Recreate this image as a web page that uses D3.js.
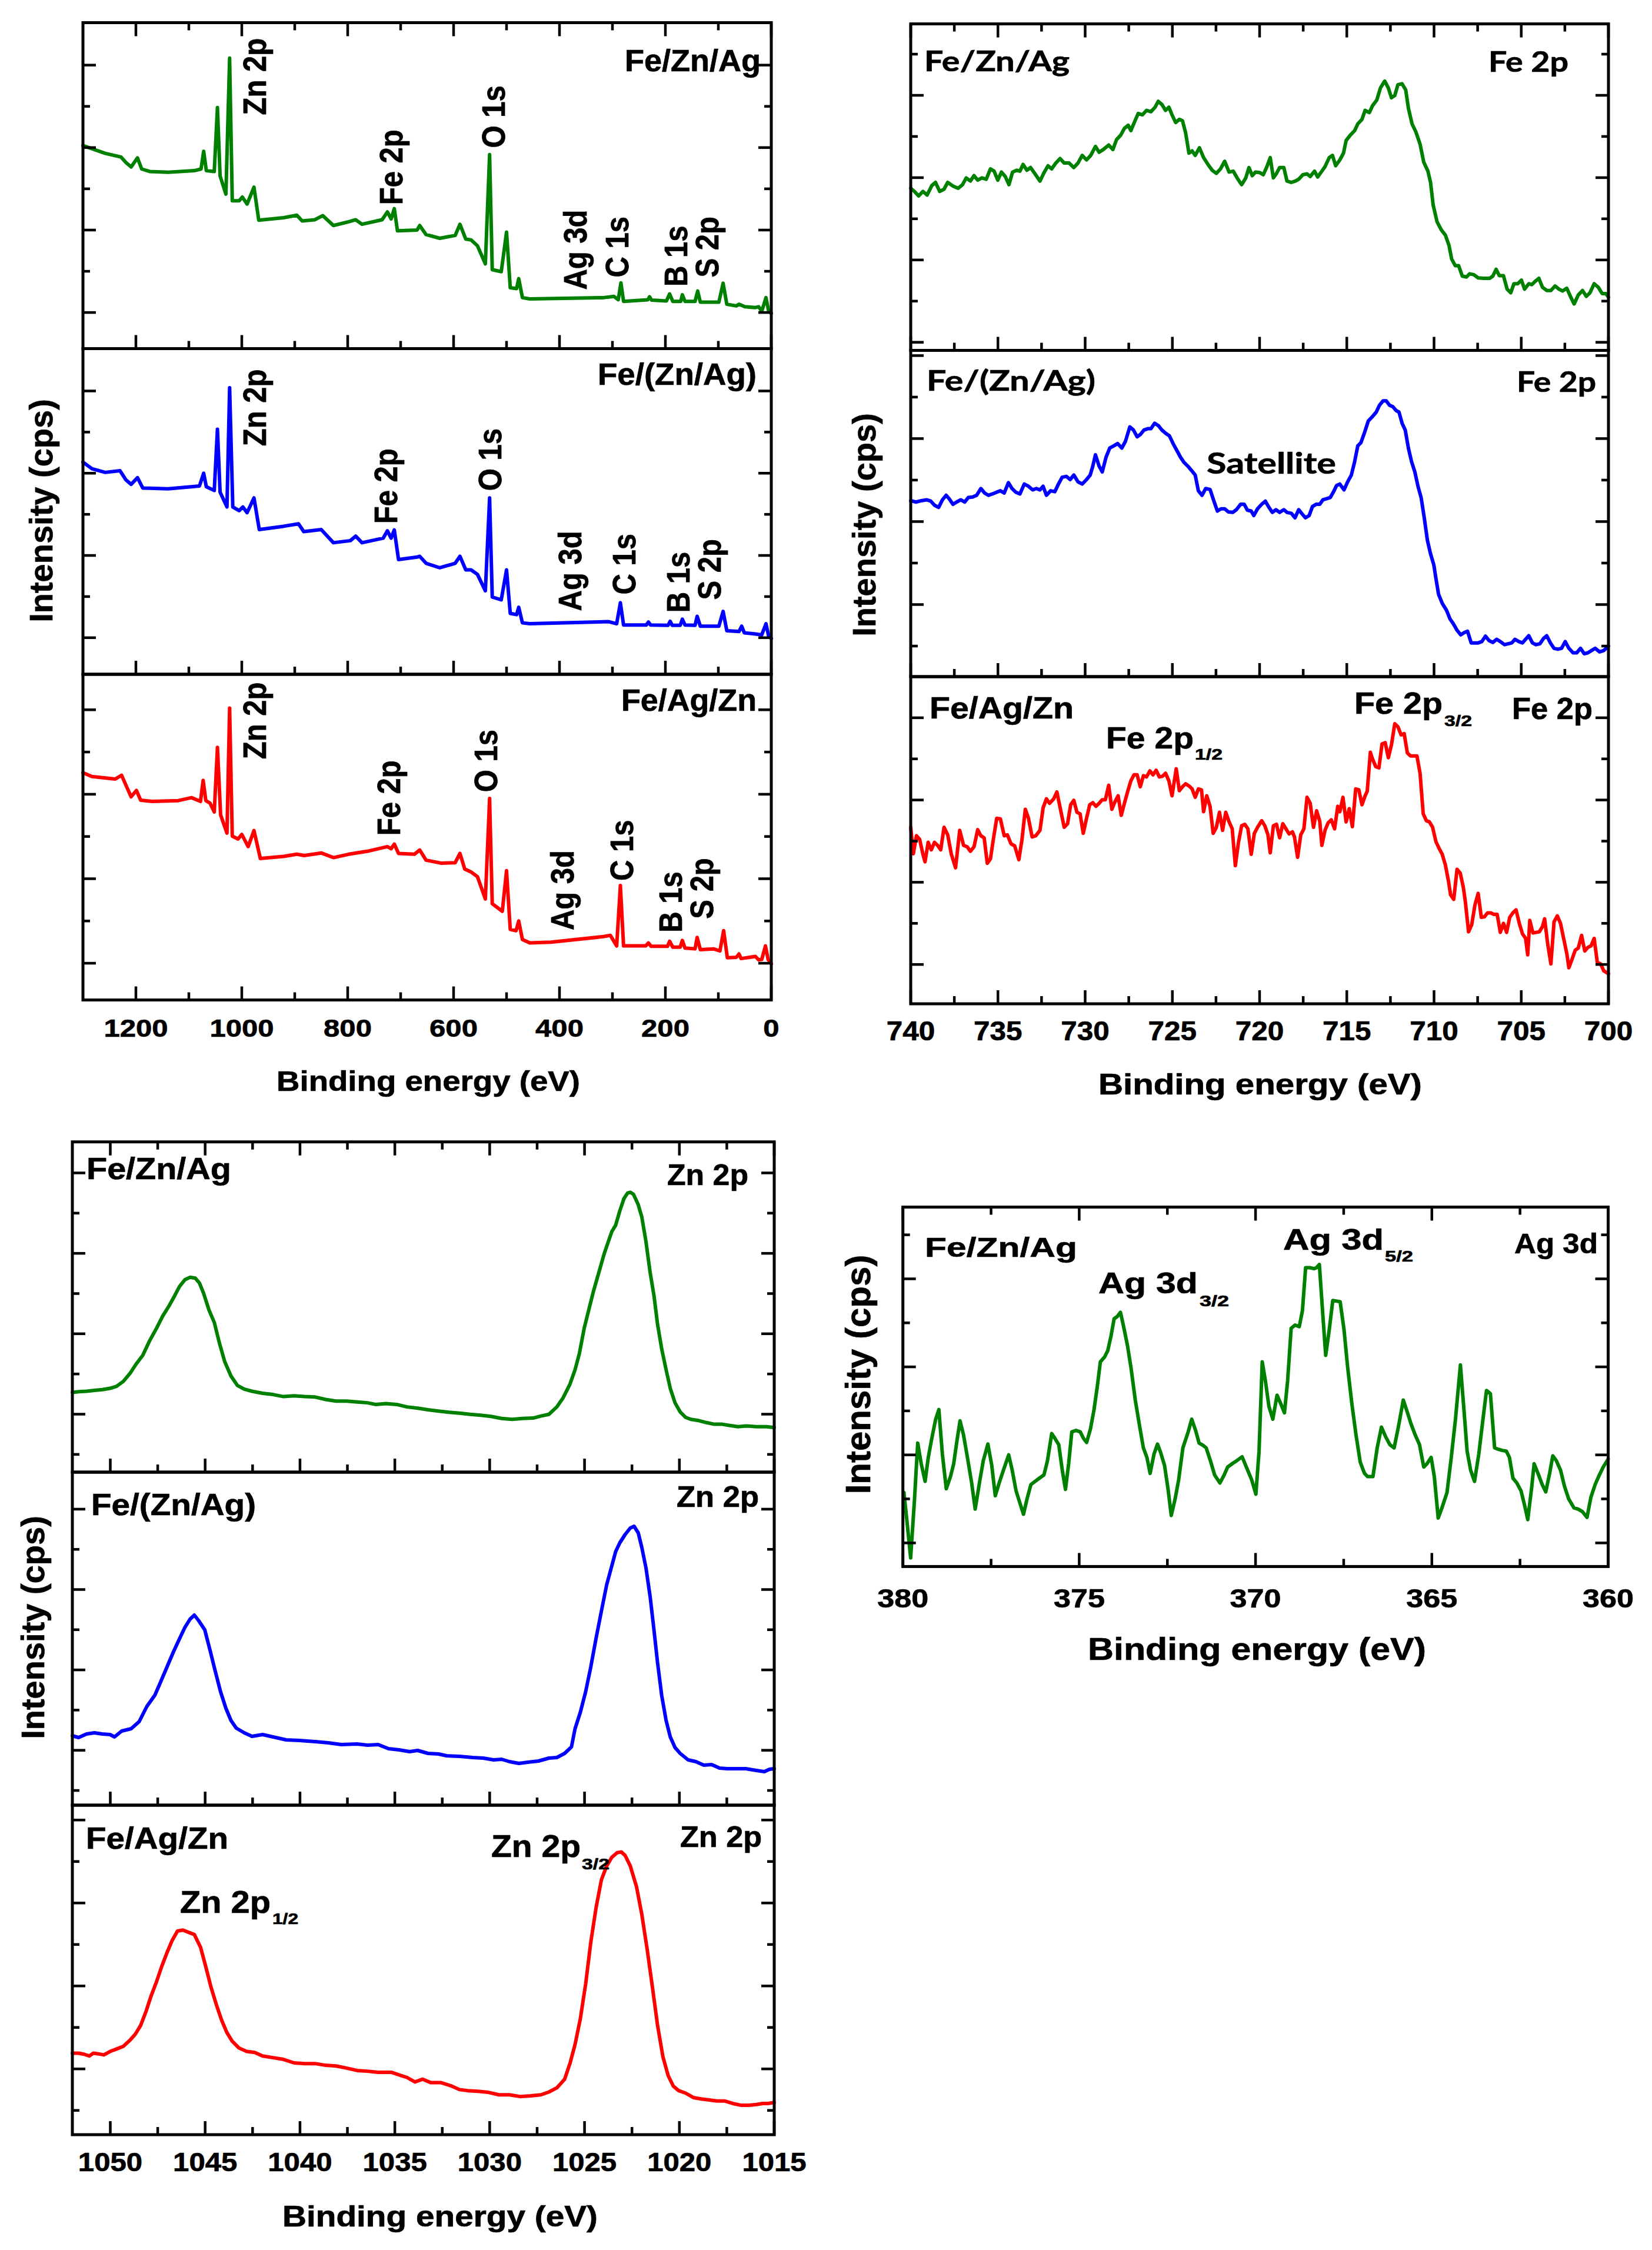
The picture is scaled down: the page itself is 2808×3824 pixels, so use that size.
<!DOCTYPE html>
<html><head><meta charset="utf-8">
<script src="https://cdn.jsdelivr.net/npm/d3@7/dist/d3.min.js"></script>
<style>body{margin:0;background:#fff} text{stroke:#000;stroke-width:0.7px}</style>
</head><body>
<script>
// ---------------- DATA ----------------
// Survey spectra: [binding energy eV, intensity (a.u.)]
const surveyFeZnAg = [[1300,4.05],[1258,3.86],[1228,3.77],[1219,3.64],[1209,3.53],[1197,3.75],[1189,3.48],[1174,3.42],[1139,3.40],[1090,3.44],[1077,3.48],[1072,3.91],[1067,3.44],[1052,3.42],[1046,4.97],[1041,3.31],[1030,2.87],[1023,6.17],[1018,2.71],[1005,2.71],[999,2.80],[990,2.63],[977,3.04],[968,2.24],[921,2.30],[896,2.36],[886,2.22],[862,2.25],[847,2.35],[827,2.11],[798,2.20],[785,2.25],[773,2.14],[735,2.25],[725,2.44],[718,2.27],[712,2.52],[706,1.98],[669,2.0],[664,2.11],[652,1.89],[626,1.80],[597,1.87],[588,2.14],[577,1.78],[567,1.76],[555,1.62],[540,1.18],[532,3.83],[527,1.04],[510,0.99],[500,1.95],[493,0.60],[481,0.58],[477,0.82],[470,0.36],[456,0.33],[317,0.36],[297,0.39],[289,0.31],[284,0.72],[279,0.27],[233,0.31],[230,0.38],[226,0.30],[198,0.28],[192,0.45],[186,0.27],[171,0.27],[168,0.43],[163,0.27],[144,0.27],[139,0.52],[134,0.25],[99,0.25],[91,0.71],[84,0.20],[66,0.16],[61,0.20],[50,0.14],[30,0.12],[24,0.14],[18,0.03],[10,0.36],[5,0.03],[0,-0.02]];
const surveyFeZnAgMix = [[1300,4.27],[1283,4.11],[1258,4.02],[1230,4.06],[1219,3.84],[1209,3.73],[1197,3.89],[1187,3.64],[1139,3.62],[1080,3.69],[1072,4.0],[1067,3.67],[1052,3.58],[1046,5.07],[1041,3.54],[1028,3.18],[1023,6.08],[1017,3.18],[1005,3.09],[998,3.18],[990,3.04],[977,3.40],[967,2.63],[921,2.71],[893,2.77],[883,2.58],[850,2.63],[827,2.31],[795,2.36],[785,2.47],[773,2.31],[733,2.42],[725,2.60],[718,2.42],[712,2.62],[704,1.90],[669,1.96],[664,1.98],[652,1.81],[626,1.70],[597,1.81],[588,1.98],[577,1.65],[567,1.65],[555,1.54],[540,1.14],[532,3.40],[527,0.99],[510,0.92],[500,1.65],[493,0.59],[481,0.56],[477,0.74],[470,0.36],[456,0.34],[307,0.39],[292,0.34],[285,0.85],[279,0.31],[236,0.31],[232,0.38],[228,0.31],[195,0.30],[191,0.40],[187,0.30],[172,0.30],[168,0.45],[163,0.31],[144,0.30],[140,0.52],[134,0.28],[99,0.28],[91,0.64],[84,0.17],[61,0.15],[56,0.28],[51,0.12],[30,0.09],[18,0.07],[10,0.34],[5,0.04],[0,-0.02]];
const surveyFeAgZn = [[1300,4.51],[1283,4.42],[1239,4.36],[1227,4.45],[1219,4.22],[1209,3.94],[1199,4.09],[1191,3.86],[1169,3.83],[1120,3.85],[1095,3.92],[1078,3.83],[1073,4.33],[1068,3.85],[1060,3.79],[1052,3.58],[1046,5.11],[1040,3.51],[1028,3.08],[1023,6.04],[1018,3.01],[1007,2.94],[1000,3.05],[988,2.76],[977,3.14],[965,2.48],[921,2.53],[896,2.58],[882,2.55],[850,2.61],[827,2.50],[798,2.58],[763,2.65],[725,2.76],[718,2.71],[712,2.82],[704,2.60],[674,2.58],[664,2.68],[652,2.44],[624,2.37],[597,2.38],[588,2.60],[579,2.23],[567,2.16],[555,2.05],[540,1.52],[532,3.90],[527,1.41],[508,1.23],[500,2.19],[493,0.80],[482,0.77],[477,1.0],[470,0.56],[456,0.48],[416,0.50],[317,0.63],[304,0.66],[292,0.41],[285,1.84],[279,0.41],[237,0.41],[232,0.48],[227,0.40],[196,0.40],[192,0.52],[186,0.38],[172,0.38],[168,0.54],[163,0.36],[144,0.34],[140,0.61],[134,0.32],[109,0.34],[97,0.29],[90,0.77],[83,0.13],[66,0.14],[61,0.22],[57,0.11],[30,0.16],[24,0.08],[18,0.09],[11,0.41],[6,0.09],[0,-0.01]];

// Fe 2p spectra: [binding energy eV, intensity (a.u.)]
const feFeZnAg = [[740.00,342],[739.79,335],[739.55,325],[739.30,335],[739.06,327],[738.79,348],[738.58,355],[738.34,335],[738.09,340],[737.88,355],[737.58,347],[737.28,342],[737.03,350],[736.82,365],[736.58,358],[736.37,370],[736.16,360],[735.92,365],[735.67,362],[735.43,385],[735.22,380],[735.01,360],[734.80,378],[734.58,368],[734.37,350],[734.16,378],[733.92,382],[733.74,380],[733.56,395],[733.34,382],[733.13,388],[732.89,375],[732.59,358],[732.34,378],[732.13,392],[731.92,385],[731.68,398],[731.44,408],[731.20,398],[730.92,398],[730.65,388],[730.41,398],[730.17,415],[729.92,405],[729.68,415],[729.41,435],[729.20,422],[728.96,428],[728.65,438],[728.41,428],[728.20,450],[727.96,460],[727.75,475],[727.53,482],[727.38,470],[727.14,492],[726.96,508],[726.72,505],[726.48,515],[726.23,512],[725.99,522],[725.81,535],[725.60,528],[725.39,515],[725.20,522],[725.02,505],[724.81,488],[724.60,495],[724.42,492],[724.24,465],[724.05,420],[723.87,425],[723.69,415],[723.45,432],[723.21,410],[722.96,395],[722.72,382],[722.48,375],[722.24,385],[722.00,402],[721.75,378],[721.51,380],[721.24,362],[721.03,350],[720.79,365],[720.61,388],[720.42,370],[720.24,378],[720.00,377],[719.79,372],[719.58,390],[719.39,410],[719.21,365],[719.03,375],[718.85,388],[718.61,388],[718.43,358],[718.18,355],[717.94,358],[717.76,362],[717.52,372],[717.28,374],[717.10,368],[716.85,380],[716.67,367],[716.43,380],[716.25,390],[716.01,410],[715.82,415],[715.64,392],[715.40,405],[715.19,420],[715.04,448],[714.80,460],[714.55,470],[714.37,485],[714.13,495],[713.95,515],[713.71,510],[713.53,525],[713.28,538],[713.07,565],[712.83,580],[712.62,565],[712.44,543],[712.25,548],[712.07,572],[711.83,574],[711.62,560],[711.47,520],[711.26,485],[711.04,467],[710.80,440],[710.59,400],[710.35,380],[710.20,355],[710.05,305],[709.83,268],[709.59,250],[709.35,238],[709.14,215],[708.99,185],[708.78,170],[708.59,170],[708.38,147],[708.14,145],[707.96,152],[707.72,150],[707.47,143],[707.17,142],[706.81,142],[706.63,147],[706.44,162],[706.26,148],[706.02,148],[705.81,118],[705.60,110],[705.42,130],[705.20,130],[704.99,138],[704.81,118],[704.57,130],[704.39,128],[704.21,135],[703.99,142],[703.78,122],[703.54,115],[703.30,115],[703.06,125],[702.84,118],[702.63,114],[702.39,120],[702.18,102],[701.97,85],[701.73,105],[701.49,115],[701.27,102],[701.06,110],[700.82,130],[700.58,122],[700.36,108],[700.15,108],[700.00,100]];
const feFeZnAgMix = [[740.00,323],[739.70,320],[739.39,323],[739.09,325],[738.85,322],[738.64,313],[738.40,308],[738.18,325],[737.97,335],[737.79,327],[737.58,315],[737.37,320],[737.13,325],[736.91,320],[736.70,330],[736.46,331],[736.22,335],[735.98,350],[735.76,340],[735.55,335],[735.31,338],[735.07,342],[734.86,345],[734.64,340],[734.40,363],[734.19,350],[733.98,342],[733.74,338],[733.49,360],[733.25,355],[733.01,347],[732.80,350],[732.59,347],[732.41,355],[732.22,335],[731.98,345],[731.74,343],[731.53,360],[731.32,375],[731.07,377],[730.86,370],[730.65,380],[730.41,365],[730.17,360],[729.92,370],[729.71,380],[729.56,400],[729.41,425],[729.20,400],[729.02,387],[728.80,420],[728.59,440],[728.35,445],[728.14,450],[727.90,440],[727.69,455],[727.44,487],[727.23,480],[727.02,465],[726.84,470],[726.63,480],[726.41,483],[726.23,483],[726.02,495],[725.81,490],[725.60,480],[725.39,473],[725.17,467],[724.96,450],[724.75,435],[724.54,420],[724.33,408],[724.12,400],[723.90,390],[723.69,380],[723.51,345],[723.30,335],[723.09,350],[722.84,348],[722.60,320],[722.42,300],[722.21,305],[722.00,305],[721.79,298],[721.54,297],[721.33,303],[721.09,315],[720.88,315],[720.70,302],[720.48,300],[720.33,290],[720.12,305],[719.88,315],[719.67,322],[719.46,308],[719.27,297],[719.06,303],[718.85,297],[718.61,303],[718.43,297],[718.18,295],[717.97,285],[717.76,303],[717.55,293],[717.37,285],[717.16,290],[716.97,310],[716.76,315],[716.55,315],[716.37,325],[716.19,327],[715.95,330],[715.76,343],[715.58,357],[715.40,360],[715.16,347],[714.95,365],[714.74,380],[714.55,410],[714.37,445],[714.19,452],[713.98,475],[713.77,500],[713.53,510],[713.31,520],[713.13,535],[712.92,545],[712.74,545],[712.55,535],[712.37,532],[712.16,523],[712.01,520],[711.83,495],[711.65,480],[711.47,440],[711.29,410],[711.10,387],[710.92,355],[710.74,330],[710.56,285],[710.38,235],[710.20,205],[710.01,180],[709.89,150],[709.74,115],[709.53,95],[709.29,80],[709.08,60],[708.90,50],[708.68,35],[708.47,25],[708.26,30],[708.08,33],[707.87,7],[707.66,7],[707.47,7],[707.26,10],[707.05,22],[706.84,12],[706.63,8],[706.41,15],[706.20,10],[705.96,3],[705.75,5],[705.54,7],[705.36,15],[705.14,10],[704.93,7],[704.75,15],[704.57,23],[704.36,7],[704.15,3],[703.93,5],[703.72,17],[703.54,23],[703.33,7],[703.12,-5],[702.90,-7],[702.69,-5],[702.48,10],[702.27,-5],[702.03,-15],[701.82,-15],[701.60,-5],[701.39,-17],[701.18,-15],[700.97,-10],[700.76,-5],[700.51,-13],[700.27,-10],[700.00,0]];
const feFeAgZn = [[740.00,457],[739.85,369],[739.67,429],[739.49,417],[739.30,367],[739.18,342],[739.00,407],[738.82,382],[738.64,407],[738.46,397],[738.28,382],[738.09,457],[737.88,432],[737.67,367],[737.43,322],[737.19,447],[736.97,397],[736.76,392],[736.58,377],[736.37,392],[736.16,449],[735.98,429],[735.79,422],[735.61,337],[735.43,352],[735.25,422],[735.07,487],[734.86,485],[734.64,429],[734.46,432],[734.25,402],[734.04,395],[733.80,349],[733.62,417],[733.43,517],[733.25,487],[733.04,425],[732.83,429],[732.59,447],[732.41,522],[732.22,552],[732.04,537],[731.80,552],[731.62,575],[731.38,507],[731.20,457],[731.01,469],[730.83,532],[730.65,547],[730.47,507],[730.29,502],[730.11,437],[729.92,487],[729.74,532],[729.56,539],[729.38,527],[729.20,537],[729.02,549],[728.84,549],[728.65,597],[728.47,517],[728.29,542],[728.11,562],[727.93,497],[727.75,537],[727.56,577],[727.38,612],[727.20,632],[727.02,632],[726.84,592],[726.66,629],[726.48,625],[726.29,645],[726.11,632],[725.93,647],[725.75,625],[725.57,627],[725.39,637],[725.20,612],[725.02,562],[724.78,652],[724.60,579],[724.42,592],[724.24,602],[724.05,595],[723.87,585],[723.69,557],[723.51,585],[723.33,582],[723.21,509],[723.03,562],[722.84,527],[722.66,437],[722.48,457],[722.30,507],[722.12,447],[721.94,507],[721.76,477],[721.57,452],[721.39,329],[721.21,407],[721.03,462],[720.85,467],[720.67,452],[720.48,367],[720.30,437],[720.12,457],[719.88,479],[719.70,462],[719.52,432],[719.39,372],[719.21,462],[719.03,467],[718.85,422],[718.67,469],[718.49,452],[718.31,435],[718.12,442],[718.00,425],[717.82,357],[717.64,432],[717.46,452],[717.28,557],[717.10,537],[716.91,457],[716.73,512],[716.55,477],[716.43,397],[716.25,447],[716.07,472],[715.89,482],[715.70,452],[715.52,527],[715.40,509],[715.22,557],[715.04,475],[714.86,519],[714.68,459],[714.49,585],[714.31,582],[714.13,532],[713.95,562],[713.83,577],[713.65,707],[713.53,685],[713.34,659],[713.16,655],[712.98,735],[712.80,739],[712.62,689],[712.44,732],[712.25,802],[712.07,792],[711.89,765],[711.71,769],[711.53,705],[711.35,695],[711.17,695],[710.98,695],[710.80,637],[710.62,502],[710.44,479],[710.26,475],[710.08,457],[709.89,409],[709.71,387],[709.53,367],[709.35,332],[709.17,277],[709.05,232],[708.87,217],[708.68,317],[708.50,305],[708.32,257],[708.20,207],[708.02,109],[707.84,132],[707.66,197],[707.47,237],[707.29,157],[707.11,159],[706.93,172],[706.75,172],[706.57,167],[706.38,167],[706.20,107],[706.02,137],[705.84,107],[705.66,157],[705.48,172],[705.30,182],[705.11,137],[704.93,102],[704.75,87],[704.63,32],[704.51,147],[704.33,105],[704.15,107],[703.96,109],[703.78,127],[703.66,152],[703.48,67],[703.30,2],[703.12,142],[702.93,162],[702.75,137],[702.57,87],[702.39,37],[702.27,-11],[702.09,17],[701.91,47],[701.73,55],[701.54,97],[701.36,45],[701.18,57],[701.00,62],[700.82,87],[700.64,7],[700.45,2],[700.27,-21],[700.00,-31]];

// Zn 2p spectra: [binding energy eV, intensity (a.u.)]
const znFeZnAg = [[1052.00,150],[1051.67,152],[1051.25,153],[1050.84,155],[1050.42,157],[1050.01,160],[1049.67,165],[1049.31,177],[1048.95,197],[1048.62,220],[1048.29,240],[1047.93,275],[1047.57,305],[1047.24,335],[1046.90,360],[1046.60,385],[1046.35,407],[1046.07,423],[1045.80,429],[1045.52,427],[1045.30,415],[1045.08,390],[1044.80,350],[1044.52,320],[1044.25,270],[1043.97,225],[1043.64,190],[1043.30,167],[1042.94,158],[1042.53,153],[1041.97,148],[1041.42,145],[1040.87,140],[1040.31,142],[1039.76,140],[1039.20,139],[1038.65,133],[1038.10,129],[1037.54,129],[1036.99,127],[1036.44,125],[1036.02,121],[1035.47,123],[1034.91,121],[1034.36,115],[1033.80,112],[1033.25,108],[1032.70,105],[1032.14,102],[1031.59,100],[1031.03,97],[1030.48,95],[1029.93,92],[1029.37,87],[1028.82,85],[1028.27,87],[1027.71,88],[1027.30,93],[1026.88,97],[1026.46,115],[1026.13,137],[1025.77,170],[1025.50,205],[1025.27,245],[1025.02,305],[1024.75,355],[1024.53,395],[1024.25,440],[1023.97,485],[1023.75,515],[1023.56,540],[1023.36,555],[1023.14,590],[1022.92,620],[1022.73,633],[1022.59,635],[1022.42,630],[1022.17,605],[1021.98,575],[1021.76,515],[1021.54,440],[1021.34,385],[1021.15,315],[1020.93,255],[1020.70,205],[1020.48,160],[1020.23,125],[1019.96,103],[1019.68,90],[1019.40,85],[1018.99,82],[1018.57,77],[1018.16,73],[1017.74,73],[1017.33,70],[1016.91,67],[1016.49,69],[1015.94,67],[1015.39,67],[1015.00,65]];
const znFeZnAgMix = [[1052.00,93],[1051.67,90],[1051.25,96],[1050.84,98],[1050.42,96],[1050.01,95],[1049.78,91],[1049.40,101],[1048.90,105],[1048.48,117],[1048.07,143],[1047.65,162],[1047.38,182],[1047.01,210],[1046.68,235],[1046.35,258],[1046.07,277],[1045.80,291],[1045.57,298],[1045.35,289],[1045.02,273],[1044.74,238],[1044.47,203],[1044.19,168],[1043.91,140],[1043.64,119],[1043.36,106],[1042.94,98],[1042.53,92],[1041.97,95],[1041.42,91],[1040.73,86],[1040.04,85],[1039.20,83],[1038.51,81],[1037.82,78],[1036.99,79],[1036.44,77],[1035.88,78],[1035.33,71],[1034.77,69],[1034.22,66],[1033.80,68],[1033.25,63],[1032.70,62],[1032.28,59],[1031.59,58],[1030.90,56],[1030.34,55],[1029.79,52],[1029.37,53],[1028.96,49],[1028.46,46],[1027.99,48],[1027.43,50],[1026.88,55],[1026.46,56],[1026.05,63],[1025.69,74],[1025.50,105],[1025.22,133],[1024.94,168],[1024.67,210],[1024.39,259],[1024.11,305],[1023.83,350],[1023.56,382],[1023.36,406],[1023.14,421],[1022.86,435],[1022.59,446],[1022.39,449],[1022.17,438],[1021.98,413],[1021.76,378],[1021.54,329],[1021.34,273],[1021.15,217],[1020.93,161],[1020.70,119],[1020.48,91],[1020.23,73],[1019.96,63],[1019.54,52],[1019.13,49],[1018.71,43],[1018.30,44],[1017.88,38],[1017.46,37],[1017.05,37],[1016.49,37],[1015.94,34],[1015.52,32],[1015.25,36],[1015.00,37]];
const znFeAgZn = [[1052.00,165],[1051.67,165],[1051.39,162],[1051.11,157],[1050.89,165],[1050.62,163],[1050.34,160],[1050.01,170],[1049.67,177],[1049.31,185],[1048.95,203],[1048.68,220],[1048.40,245],[1048.12,285],[1047.85,330],[1047.57,370],[1047.29,415],[1047.01,455],[1046.74,490],[1046.46,517],[1046.18,520],[1045.85,513],[1045.57,507],[1045.24,470],[1044.97,415],[1044.69,355],[1044.41,305],[1044.13,260],[1043.86,225],[1043.58,200],[1043.22,180],[1042.81,170],[1042.39,167],[1041.97,157],[1041.42,152],[1040.87,147],[1040.31,137],[1039.76,135],[1039.20,135],[1038.65,130],[1038.10,128],[1037.54,122],[1036.99,115],[1036.44,113],[1035.88,110],[1035.19,110],[1034.64,100],[1034.36,95],[1033.94,82],[1033.53,90],[1033.11,80],[1032.56,80],[1032.00,70],[1031.59,60],[1031.17,57],[1030.62,55],[1030.07,52],[1029.51,45],[1028.96,45],[1028.40,40],[1027.85,42],[1027.30,45],[1026.88,53],[1026.46,65],[1026.05,90],[1025.77,135],[1025.50,190],[1025.22,265],[1024.94,365],[1024.67,485],[1024.39,585],[1024.11,665],[1023.83,705],[1023.56,730],[1023.28,743],[1023.06,745],[1022.86,735],[1022.59,705],[1022.26,645],[1021.98,565],[1021.70,465],[1021.42,355],[1021.15,245],[1020.87,155],[1020.59,100],[1020.32,70],[1020.04,57],[1019.68,50],[1019.26,37],[1018.85,33],[1018.43,30],[1018.02,27],[1017.60,27],[1017.19,20],[1016.77,15],[1016.36,15],[1015.94,17],[1015.61,20],[1015.33,20],[1015.00,23]];

// Ag 3d spectrum: [binding energy eV, intensity (a.u.)]
const agFeZnAg = [[379.97,158],[379.88,63],[379.78,-47],[379.67,138],[379.58,313],[379.48,248],[379.37,193],[379.28,268],[379.18,328],[379.07,388],[378.98,418],[378.88,278],[378.77,170],[378.65,208],[378.56,248],[378.47,318],[378.38,383],[378.28,338],[378.17,268],[378.05,188],[377.95,106],[377.83,188],[377.72,258],[377.59,310],[377.48,243],[377.38,148],[377.27,188],[377.15,228],[377.00,276],[376.90,228],[376.79,163],[376.69,128],[376.58,90],[376.48,138],[376.37,183],[376.25,193],[376.13,203],[376.00,213],[375.90,258],[375.78,343],[375.69,328],[375.58,308],[375.48,228],[375.39,168],[375.30,248],[375.21,348],[375.09,353],[374.97,348],[374.88,328],[374.79,315],[374.68,358],[374.58,418],[374.49,488],[374.40,568],[374.28,583],[374.19,603],[374.10,648],[374.01,703],[373.92,710],[373.83,723],[373.74,678],[373.63,618],[373.53,548],[373.41,448],[373.29,368],[373.18,298],[373.08,268],[372.99,218],[372.88,278],[372.78,310],[372.69,283],[372.58,243],[372.48,168],[372.39,86],[372.28,138],[372.18,198],[372.06,298],[371.91,348],[371.81,388],[371.70,353],[371.60,313],[371.49,306],[371.40,298],[371.28,258],[371.16,213],[371.01,188],[370.89,213],[370.79,238],[370.64,250],[370.53,258],[370.38,270],[370.26,238],[370.11,198],[369.99,153],[369.90,288],[369.81,568],[369.72,508],[369.62,428],[369.51,388],[369.39,463],[369.29,438],[369.18,408],[369.09,508],[368.99,673],[368.88,683],[368.76,678],[368.67,728],[368.58,863],[368.46,863],[368.34,860],[368.27,863],[368.19,873],[368.10,728],[368.01,588],[367.91,668],[367.81,760],[367.69,758],[367.60,756],[367.49,668],[367.39,553],[367.27,438],[367.15,338],[367.03,253],[366.91,218],[366.82,208],[366.67,208],[366.55,298],[366.43,363],[366.31,333],[366.19,308],[366.07,298],[365.95,363],[365.81,448],[365.69,408],[365.59,373],[365.47,338],[365.35,308],[365.23,238],[365.14,248],[365.02,268],[364.93,208],[364.82,78],[364.72,108],[364.57,158],[364.45,268],[364.33,388],[364.19,558],[364.09,418],[364.00,288],[363.90,228],[363.79,193],[363.67,278],[363.55,388],[363.45,478],[363.34,468],[363.22,298],[363.10,293],[363.00,290],[362.89,288],[362.80,268],[362.70,203],[362.59,188],[362.47,163],[362.37,118],[362.28,73],[362.17,173],[362.10,248],[361.99,218],[361.87,183],[361.77,160],[361.66,218],[361.57,273],[361.47,258],[361.35,228],[361.24,178],[361.12,138],[360.97,110],[360.85,106],[360.73,98],[360.60,80],[360.49,143],[360.37,183],[360.25,213],[360.14,238],[360.00,263]];

// Tick labels
const surveyTicks = [1200,1000,800,600,400,200,0];
const feTicks = [740,735,730,725,720,715,710,705,700];
const znTicks = [1050,1045,1040,1035,1030,1025,1020,1015];
const agTicks = [380,375,370,365,360];

// Sample names and peak annotations
const samples = ['Fe/Zn/Ag','Fe/(Zn/Ag)','Fe/Ag/Zn'];
const surveyPeakNames = ['Zn 2p','Fe 2p','O 1s','Ag 3d','C 1s','B 1s','S 2p'];
const surveyPeakE = [[955,696.6,503.6,349.4,269.5,158.6,99.8],[955,706.6,510.2,359.4,256.2,154.2,95.4],[955,701,518,373.8,260.7,168.6,109.8]];
const surveyPeakY = [[4.79,2.61,3.99,0.55,0.85,0.63,0.85],[4.66,2.77,3.57,0.65,1.05,0.61,0.92],[4.83,3.02,4.05,0.78,1.95,0.73,1.05]];

// ---------------- DRAWING ----------------
const W = 2808, H = 3824;
const ARIAL = '"Liberation Sans", Arial, Helvetica, sans-serif';
const CAL = 'Lato, "Open Sans", sans-serif';
const GREEN = '#008000', BLUE = '#0000ff', RED = '#ff0000';
const colors = [GREEN, BLUE, RED];

const svg = d3.select('body').append('svg').attr('width', W).attr('height', H)
  .attr('viewBox', `0 0 ${W} ${H}`).style('background', '#fff');
svg.append('rect').attr('width', W).attr('height', H).attr('fill', '#fff');
const layerCurves = svg.append('g');
const layerAxes = svg.append('g');
const layerText = svg.append('g');

function minorTicks(major, x) {
  const step = major[1] - major[0];
  const d = x.domain(), lo = Math.min(...d), hi = Math.max(...d);
  const c = major.map(v => v + step / 2).concat([major[0] - step / 2]);
  return c.filter(v => v > lo + 1e-6 && v < hi - 1e-6);
}

function drawPanel(x, y, data, color, yStep, parity, major, topTicks) {
  const [x0, x1] = x.range();
  const [yb, yt] = y.range();
  layerCurves.append('path').datum(data)
    .attr('d', d3.line().x(d => x(d[0])).y(d => y(d[1])))
    .attr('fill', 'none').attr('stroke', color).attr('stroke-width', 6)
    .attr('stroke-linejoin', 'round').attr('stroke-linecap', 'round');
  const g = layerAxes.append('g').attr('stroke', '#000').attr('stroke-width', 4.5);
  const xt = major.map(v => [v, 23]).concat(minorTicks(major, x).map(v => [v, 13]));
  xt.forEach(([v, L]) => {
    const xx = x(v);
    g.append('line').attr('x1', xx).attr('x2', xx).attr('y1', yb).attr('y2', yb - L);
    if (topTicks) g.append('line').attr('x1', xx).attr('x2', xx).attr('y1', yt).attr('y2', yt + L);
  });
  const hi = y.domain()[1];
  for (let k = 0; k * yStep <= hi; k++) {
    const yy = y(k * yStep);
    if (Math.abs(yy - yt) < 4) continue;
    const L = (k % 2 === parity) ? 22 : 12;
    g.append('line').attr('x1', x0).attr('x2', x0 + L).attr('y1', yy).attr('y2', yy);
    g.append('line').attr('x1', x1).attr('x2', x1 - L).attr('y1', yy).attr('y2', yy);
  }
  layerAxes.append('rect').attr('x', x0).attr('y', yt).attr('width', x1 - x0).attr('height', yb - yt)
    .attr('fill', 'none').attr('stroke', '#000').attr('stroke-width', 5);
}

function txt(str, x, y, fs, width, family) {
  const t = layerText.append('text').attr('x', x).attr('y', y).attr('font-size', fs)
    .attr('font-family', family || ARIAL).attr('font-weight', 'bold').attr('fill', '#000').text(str);
  if (width) t.attr('textLength', width).attr('lengthAdjust', 'spacingAndGlyphs');
  return t;
}
function vtxt(str, x, y, fs, anchor, sx) {
  return layerText.append('text')
    .attr('transform', `translate(${x},${y}) scale(${sx || 1},1) rotate(-90)`)
    .attr('text-anchor', anchor).attr('font-size', fs).attr('font-family', ARIAL)
    .attr('font-weight', 'bold').attr('fill', '#000').text(str);
}
function tickLabels(x, ticks, baseline, fs, perDigit) {
  ticks.forEach(v => {
    const s = String(v), w = s.length * perDigit;
    txt(s, x(v) - w / 2, baseline, fs, w);
  });
}

// ---- Survey (top left) ----
const sX = d3.scaleLinear().domain([1300, 0]).range([141, 1311]);
const sY = [
  d3.scaleLinear().domain([-0.876, 7.03]).range([592.5, 38.5]),
  d3.scaleLinear().domain([-0.89, 7.03]).range([1146, 592.5]),
  d3.scaleLinear().domain([-0.87, 6.84]).range([1699.5, 1146])
];
[surveyFeZnAg, surveyFeZnAgMix, surveyFeAgZn].forEach((d, i) =>
  drawPanel(sX, sY[i], d, colors[i], 1, 0, surveyTicks, i === 0));
txt(samples[0], 1062, 121, 51, 231);
txt(samples[1], 1016, 654, 51, 270);
txt(samples[2], 1056, 1208, 51, 230);
surveyPeakE.forEach((row, p) => row.forEach((e, j) =>
  vtxt(surveyPeakNames[j], sX(e), sY[p](surveyPeakY[p][j]), 49, 'start', 1.12)));
tickLabels(sX, surveyTicks, 1762, 43, 27.3);
txt('Binding energy (eV)', 470, 1854, 48, 516);
vtxt('Intensity (cps)', 89, 868, 56, 'middle', 1);

// ---- Fe 2p (top right) ----
const fX = d3.scaleLinear().domain([740, 700]).range([1548, 2734]);
const fY = [
  d3.scaleLinear().domain([-18, 707]).range([595.5, 40.6]),
  d3.scaleLinear().domain([-68, 657]).range([1150, 595.5]),
  d3.scaleLinear().domain([-131, 959]).range([1706, 1150])
];
drawPanel(fX, fY[0], feFeZnAg, GREEN, 91.4, 0, feTicks, true);
drawPanel(fX, fY[1], feFeZnAgMix, BLUE, 92.2, 1, feTicks, false);
drawPanel(fX, fY[2], feFeAgZn, RED, 137, 0, feTicks, false);
txt(samples[0], 1571, 121, 48, 247, CAL);
txt('Fe 2p', 2530, 122, 48, 136, CAL);
txt(samples[1], 1575, 664, 48, 287, CAL);
txt('Fe 2p', 2578, 666, 48, 135, CAL);
txt('Satellite', 2051, 805, 50, 220, CAL);
txt(samples[2], 1580, 1221, 52, 245);
txt('Fe 2p', 2570, 1222, 52, 137);
txt('Fe 2p', 2302, 1213, 52, 150);
txt('3/2', 2455, 1234, 26, 47);
txt('Fe 2p', 1880, 1272, 52, 149);
txt('1/2', 2031, 1291, 26, 47);
tickLabels(fX, feTicks, 1768, 46, 27.5);
txt('Binding energy (eV)', 1867, 1860, 50, 550);
vtxt('Intensity (cps)', 1488, 892, 56, 'middle', 1);

// ---- Zn 2p (bottom left) ----
const zX = d3.scaleLinear().domain([1052, 1015]).range([123, 1316]);
const zY = [
  d3.scaleLinear().domain([-43, 757]).range([2502, 1940.7]),
  d3.scaleLinear().domain([-25, 541]).range([3068, 2502]),
  d3.scaleLinear().domain([-70, 880]).range([3628, 3068])
];
drawPanel(zX, zY[0], znFeZnAg, GREEN, 97.4, 1, znTicks, true);
drawPanel(zX, zY[1], znFeZnAgMix, BLUE, 68.3, 1, znTicks, false);
drawPanel(zX, zY[2], znFeAgZn, RED, 119.6, 1, znTicks, false);
txt(samples[0], 147, 2004, 52, 246);
txt('Zn 2p', 1134, 2014, 50, 138);
txt(samples[1], 155, 2575, 52, 280);
txt('Zn 2p', 1150, 2561, 50, 140);
txt(samples[2], 146, 3142, 52, 242);
txt('Zn 2p', 1156, 3139, 50, 139);
txt('Zn 2p', 835, 3156, 53, 152);
txt('3/2', 989, 3177, 26, 47);
txt('Zn 2p', 306, 3251, 53, 154);
txt('1/2', 463, 3270, 26, 44);
tickLabels(zX, znTicks, 3690, 44, 27.3);
txt('Binding energy (eV)', 480, 3784, 50, 536);
vtxt('Intensity (cps)', 75, 2766, 56, 'middle', 1);

// ---- Ag 3d (right, lower) ----
const aX = d3.scaleLinear().domain([380, 360]).range([1534.7, 2733.5]);
const aY = d3.scaleLinear().domain([-74, 1053]).range([2662.4, 2051.5]);
drawPanel(aX, aY, agFeZnAg, GREEN, 138, 0, agTicks, true);
txt(samples[0], 1572, 2136, 47, 259);
txt('Ag 3d', 2574, 2130, 49, 142);
txt('Ag 3d', 1867, 2198, 50, 169);
txt('3/2', 2039, 2220, 26, 50);
txt('Ag 3d', 2181, 2124, 50, 171);
txt('5/2', 2354, 2144, 26, 48);
tickLabels(aX, agTicks, 2732, 45, 29);
txt('Binding energy (eV)', 1849, 2821, 53, 575);
vtxt('Intensity (cps)', 1479, 2336, 60, 'middle', 1);
</script>
</body></html>
